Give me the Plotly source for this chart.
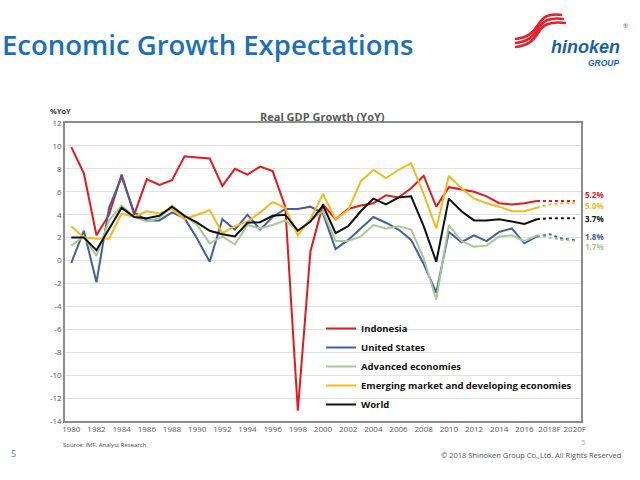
import plotly.graph_objects as go

years = list(range(1980, 2021))
tick_years = list(range(1980, 2021, 2))
tick_labels = [str(y) for y in range(1980, 2017, 2)] + ["2018F", "2020F"]
y_ticks = list(range(-14, 13, 2))
forecast_start = 2017

indonesia = [9.9, 7.6, 2.2, 4.0, 7.5, 4.0, 7.1, 6.6, 7.0, 9.1,
             9.0, 8.9, 6.5, 8.0, 7.5, 8.2, 7.8, 4.7, -13.1, 0.8,
             4.9, 3.6, 4.5, 4.8, 5.0, 5.7, 5.5, 6.3, 7.4, 4.7,
             6.4, 6.2, 6.0, 5.6, 5.0, 4.9, 5.0, 5.2, 5.2, 5.2, 5.2]
united_states = [-0.2, 2.6, -1.9, 4.6, 7.3, 4.2, 3.5, 3.5, 4.2, 3.7,
                 1.9, -0.1, 3.6, 2.7, 4.0, 2.7, 3.8, 4.5, 4.5, 4.7,
                 4.1, 1.0, 1.8, 2.8, 3.8, 3.3, 2.7, 1.8, -0.3, -2.8,
                 2.5, 1.6, 2.2, 1.7, 2.5, 2.8, 1.5, 2.1, 2.3, 1.9, 1.8]
advanced = [1.3, 2.1, 0.4, 3.5, 4.8, 3.8, 3.4, 3.7, 4.8, 3.9,
            3.1, 1.5, 2.1, 1.4, 3.1, 2.8, 3.1, 3.5, 2.6, 3.5,
            4.3, 1.7, 1.7, 2.1, 3.1, 2.8, 3.0, 2.7, 0.2, -3.4,
            3.1, 1.7, 1.2, 1.3, 2.1, 2.2, 1.7, 2.2, 2.0, 1.8, 1.7]
emerging = [3.0, 2.0, 1.9, 1.9, 4.1, 3.8, 4.3, 4.1, 4.5, 3.6,
            4.0, 4.4, 2.4, 3.0, 3.4, 4.2, 5.1, 4.6, 2.2, 3.6,
            5.8, 3.6, 4.4, 6.9, 7.9, 7.2, 7.9, 8.5, 5.8, 2.8,
            7.4, 6.3, 5.4, 5.0, 4.7, 4.3, 4.3, 4.6, 4.9, 5.0, 5.0]
world = [2.0, 2.0, 0.9, 2.7, 4.6, 3.8, 3.7, 3.9, 4.7, 3.9,
         3.3, 2.6, 2.3, 2.1, 3.3, 3.35, 3.9, 4.0, 2.6, 3.4,
         4.8, 2.4, 3.0, 4.3, 5.4, 4.9, 5.5, 5.6, 3.0, -0.1,
         5.4, 4.3, 3.5, 3.5, 3.6, 3.4, 3.2, 3.6, 3.7, 3.7, 3.7]

series = [
    ("Indonesia", indonesia, "#E3191E", "5.2%", 6),
    ("United States", united_states, "#41609E", "1.8%", 3),
    ("Advanced economies", advanced, "#A6C994", "1.7%", -5),
    ("Emerging market and developing economies", emerging, "#F4BA1D", "5.0%", -2),
    ("World", world, "#111111", "3.7%", 0),
]

W, H = 640, 480
L, R, T, B = 65, 581, 123, 421


def px(x):
    return (x - L) / (R - L)


def py(y):
    return (B - y) / (B - T)


fig = go.Figure()
k = years.index(forecast_start)
for name, vals, color, label, shift in series:
    fig.add_trace(go.Scatter(x=years[:k + 1], y=vals[:k + 1], mode="lines", name=name,
                             line=dict(color=color, width=2)))
for name, vals, color, label, shift in series:
    fig.add_trace(go.Scatter(x=years[k:], y=vals[k:], mode="lines", showlegend=False,
                             line=dict(color=color, width=2, dash="dot")))

annotations = []
for name, vals, color, label, shift in series:
    annotations.append(dict(x=1.004, xref="paper", y=vals[-1], yref="y", yshift=shift,
                            text="<b>" + label + "</b>", showarrow=False, xanchor="left",
                            font=dict(size=8, color=color, family="Open Sans")))

annotations += [
    dict(x=px(322), y=py(107), xref="paper", yref="paper", text="<b>Real GDP Growth (YoY)</b>",
         showarrow=False, font=dict(size=11, color="#595959", family="Open Sans")),
    dict(x=px(49), y=py(117), xref="paper", yref="paper", xanchor="left", yanchor="bottom",
         text="<b>%YoY</b>", showarrow=False, borderpad=0,
         font=dict(size=7.5, color="#333333", family="Open Sans")),
    dict(x=px(61), y=py(451), xref="paper", yref="paper", xanchor="left",
         text="Source: IMF, Analyst Research", showarrow=False,
         font=dict(size=6, color="#444444", family="Open Sans")),
    dict(x=px(9), y=py(462), xref="paper", yref="paper", xanchor="left", text="5",
         showarrow=False, font=dict(size=9, color="#5B7FA8", family="Open Sans")),
    dict(x=px(623), y=py(462), xref="paper", yref="paper", xanchor="right",
         text="© 2018 Shinoken Group Co.,Ltd. All Rights Reserved", showarrow=False,
         font=dict(size=7.5, color="#555555", family="Open Sans")),
    dict(x=px(588), y=py(449), xref="paper", yref="paper", text="5",
         showarrow=False, font=dict(size=8, color="#AAAAAA", family="Open Sans")),
    dict(x=px(622), y=py(35), xref="paper", yref="paper", xanchor="right",
         text="<b><i>hinoken</i></b>", showarrow=False,
         font=dict(size=18, color="#1B5FAA", family="Liberation Sans")),
    dict(x=px(622), y=py(56), xref="paper", yref="paper", xanchor="right",
         text="<b><i>GROUP</i></b>", showarrow=False,
         font=dict(size=8.5, color="#1B5FAA", family="Liberation Sans")),
    dict(x=px(621), y=py(20), xref="paper", yref="paper", xanchor="left",
         text="®", showarrow=False, font=dict(size=6, color="#1B5FAA")),
]

shapes = []
for i, off in enumerate([0, 4, 8]):
    x0, y0 = 515, 47 - off
    path = "M {},{} C {},{} {},{} {},{} S {},{} {},{}".format(
        px(x0), py(y0), px(527), py(y0 - 1), px(533), py(y0 - 6),
        px(538), py(y0 - 14), px(548), py(y0 - 26), px(566 - off * 0.5), py(y0 - 24))
    shapes.append(dict(type="path", path=path, xref="paper", yref="paper",
                       line=dict(color="#E4202A", width=2.6)))

fig.update_layout(
    width=W, height=H,
    margin=dict(l=L, r=W - R, t=T, b=H - B),
    paper_bgcolor="white", plot_bgcolor="white",
    title=dict(text="Economic Growth Expectations", x=2 / W, xanchor="left", xref="container",
               y=1 - 45 / H, yanchor="middle", yref="container",
               font=dict(size=27.5, color="#1A70B8", family="Open Sans", weight=600)),
    xaxis=dict(range=[1979.5, 2020.5], tickvals=tick_years, ticktext=tick_labels,
               showgrid=False, showline=True, mirror=True, linecolor="#8C8C8C", linewidth=1.5,
               ticks="", tickfont=dict(size=8, color="#595959", family="Open Sans")),
    yaxis=dict(range=[-14, 12], tickvals=y_ticks, ticktext=[str(v) for v in y_ticks],
               showgrid=True, gridcolor="#E3E3E3", gridwidth=1, zeroline=False,
               showline=True, mirror=True, linecolor="#8C8C8C", linewidth=1.5,
               ticks="", tickfont=dict(size=8, color="#595959", family="Open Sans")),
    legend=dict(x=px(321), y=py(314), xanchor="left", yanchor="top", bgcolor="rgba(0,0,0,0)",
                itemwidth=30, tracegroupgap=0,
                font=dict(size=9.5, color="#111111", family="Open Sans", weight="bold")),
    annotations=annotations,
    shapes=shapes,
    showlegend=True,
)

fig.write_html("out.html", config={"displayModeBar": False},
               post_script="document.body.style.margin='0';document.body.style.padding='0';")
